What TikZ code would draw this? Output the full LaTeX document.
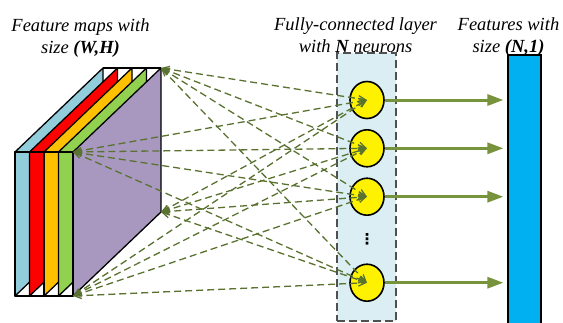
\documentclass[tikz,border=0pt]{standalone}
\usepackage{fontspec}
\setmainfont{Liberation Serif}
\newfontfamily\dotsfont{DejaVu Sans}
\usetikzlibrary{arrows.meta,shapes.geometric}
\definecolor{slabA}{HTML}{92CDDC}
\definecolor{slabB}{HTML}{FF0000}
\definecolor{slabC}{HTML}{FFC000}
\definecolor{slabD}{HTML}{92D050}
\definecolor{slabE}{HTML}{A898BF}
\definecolor{dashcol}{HTML}{5A7230}
\definecolor{arrowcol}{HTML}{77933C}
\definecolor{fcfill}{HTML}{DAEEF3}
\definecolor{fcline}{HTML}{505050}
\definecolor{barfill}{HTML}{00B0F0}
\begin{document}
\begin{tikzpicture}[x=1pt,y=-1pt,
  lbl/.style={font=\fontsize{18.5}{22}\selectfont\itshape, anchor=base, inner sep=0pt},
  slabface/.style={draw=black, line width=1.3pt, line join=round},
  slabedge/.style={draw=black, line width=1.3pt, line join=round},
  neuron/.style={ellipse, draw=black, line width=1.6pt, fill=yellow, minimum width=34pt, minimum height=37pt, inner sep=0pt},
  fcbox/.style={rectangle, draw=fcline, fill=fcfill, line width=1.1pt, dash pattern=on 8pt off 4pt, minimum width=59pt, minimum height=268pt, inner sep=0pt},
  barbox/.style={rectangle, draw=black, fill=barfill, line width=1.2pt, minimum width=33pt, minimum height=290pt, inner sep=0pt},
  conn/.style={draw=dashcol, line width=1.3pt, dash pattern=on 7pt off 4pt, {Straight Barb[length=7pt,width=6pt]}-{Straight Barb[length=7pt,width=6pt]}},
  outarrow/.style={draw=arrowcol, line width=3pt, shorten >=4pt, -{Triangle[length=16pt,width=11pt]}}
]
\useasboundingbox (0,0) rectangle (563,322);

% feature maps
\foreach \i/\c in {0/slabA,1/slabB,2/slabC,3/slabD,4/slabE} {
  \pgfmathsetmacro\xa{15+14.5*\i}
  \filldraw[slabface, fill=\c] (\xa,152) -- (\xa+88,68) -- (\xa+88,212) -- (\xa,296) -- cycle;
}
\foreach \i in {0,...,3} {
  \pgfmathsetmacro\xa{15+14.5*\i}
  \draw[slabedge] (\xa,152) rectangle (\xa+14.5,296);
}
\draw[slabedge] (103,68) -- (161,68);

\coordinate (A) at (161,68);
\coordinate (B) at (73,152);
\coordinate (C) at (161,212);
\coordinate (D) at (73,296);

% fully connected layer
\node[fcbox] (fc) at (366.5,187) {};
\node[neuron] (n1) at (367,100) {};
\node[neuron] (n2) at (367,148.3) {};
\node[neuron] (n3) at (367,196.7) {};
\node[neuron] (n4) at (367,282.7) {};
\node[font=\dotsfont\bfseries\fontsize{15}{15}\selectfont, inner sep=0pt] (dots) at (367,239) {⋮};

% output bar
\node[barbox] (bar) at (524.5,200) {};

% connections
\foreach \n in {n1,n2,n3,n4} {
  \foreach \c in {A,B,C,D} {
    \draw[conn] (\c) -- (\n.center);
  }
}
\foreach \n in {n1,n2,n3,n4} {
  \draw[outarrow] (\n.east) -- (\n.east -| bar.west);
}

% labels
\node[lbl] (t1a) at (80.5,31) {Feature maps with};
\node[lbl] (t1b) at (80.5,53) {size \textbf{(W,H)}};
\node[lbl] (t2a) at (355.5,30) {Fully-connected layer};
\node[lbl] (t2b) at (355.5,52) {with \textbf{N} neurons};
\node[lbl] (t3a) at (508.5,30) {Features with};
\node[lbl] (t3b) at (508.5,52) {size \textbf{(N,1)}};
\end{tikzpicture}
\end{document}
